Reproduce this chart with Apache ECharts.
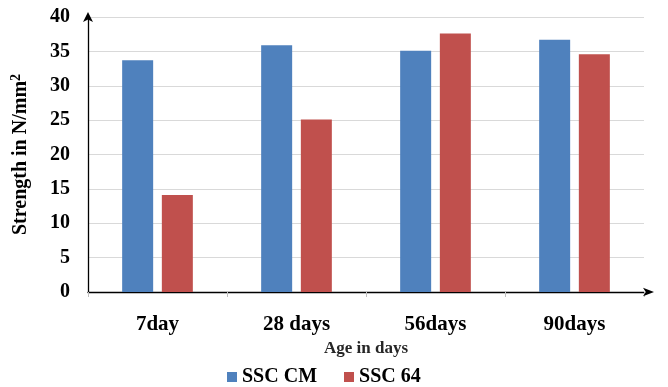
<!DOCTYPE html>
<html>
<head>
<meta charset="utf-8">
<script src="https://cdn.jsdelivr.net/npm/echarts@6/dist/echarts.min.js"></script>
<style>
  html, body { margin: 0; padding: 0; background: #ffffff; }
  #chart { width: 668px; height: 387px; }
</style>
</head>
<body>
<div id="chart"></div>
<script>
// Compressive strength by curing age
const categories = ['7day', '28 days', '56days', '90days'];
const ssccm = [33.7, 35.9, 35.1, 36.7];
const ssc64 = [14.1, 25.1, 37.6, 34.6];
const yTicks = [0, 5, 10, 15, 20, 25, 30, 35, 40];

const serif = '"Liberation Serif", "Times New Roman", serif';

const chart = echarts.init(document.getElementById('chart'), null, { renderer: 'canvas' });

chart.setOption({
  animation: false,
  backgroundColor: '#ffffff',
  grid: { left: 88, right: 24, top: 17, bottom: 95, containLabel: false },
  legend: {
    data: ['SSC CM', 'SSC 64'],
    left: 222,
    top: 362,
    icon: 'rect',
    itemWidth: 10,
    itemHeight: 10,
    itemGap: 27,
    textStyle: { fontFamily: serif, fontWeight: 'bold', fontSize: 20, color: '#000' }
  },
  xAxis: {
    type: 'category',
    data: categories,
    name: 'Age in days',
    nameLocation: 'middle',
    nameGap: 46,
    nameTextStyle: { fontFamily: serif, fontWeight: 'bold', fontSize: 17, color: '#262626' },
    axisLine: {
      show: true,
      symbol: ['none', 'arrow'],
      symbolSize: [6.5, 11],
      symbolOffset: [0, 10],
      lineStyle: { color: '#000', width: 1.3 }
    },
    axisTick: { show: true, length: 5, lineStyle: { color: '#bfbfbf' } },
    axisLabel: {
      margin: 22,
      fontFamily: serif, fontWeight: 'bold', fontSize: 21, color: '#000'
    },
    splitLine: { show: false }
  },
  yAxis: {
    type: 'value',
    min: 0,
    max: 40,
    interval: 5,
    name: '{a|Strength in N/mm}{b|2}',
    nameLocation: 'middle',
    nameGap: 55,
    nameTextStyle: {
      fontFamily: serif, fontWeight: 'bold', fontSize: 20, color: '#000',
      rich: {
        a: { fontFamily: serif, fontWeight: 'bold', fontSize: 20, color: '#000', lineHeight: 24 },
        b: { fontFamily: serif, fontWeight: 'bold', fontSize: 14, color: '#000', lineHeight: 14, verticalAlign: 'top' }
      }
    },
    axisLine: {
      show: true,
      onZero: false,
      symbol: ['none', 'arrow'],
      symbolSize: [7.5, 10],
      symbolOffset: [0, 5],
      lineStyle: { color: '#000', width: 1.3 }
    },
    axisTick: { show: false },
    axisLabel: {
      margin: 18,
      fontFamily: serif, fontWeight: 'bold', fontSize: 20, color: '#000',
      formatter: v => (yTicks.indexOf(v) >= 0 ? String(v) : '')
    },
    splitLine: { show: true, lineStyle: { color: '#d9d9d9', width: 1 } }
  },
  series: [
    {
      name: 'SSC CM',
      type: 'bar',
      data: ssccm,
      barWidth: 31,
      barGap: '28%',
      itemStyle: { color: '#4f81bd' }
    },
    {
      name: 'SSC 64',
      type: 'bar',
      data: ssc64,
      barWidth: 31,
      barGap: '28%',
      itemStyle: { color: '#c0504d' }
    }
  ]
});
</script>
</body>
</html>
